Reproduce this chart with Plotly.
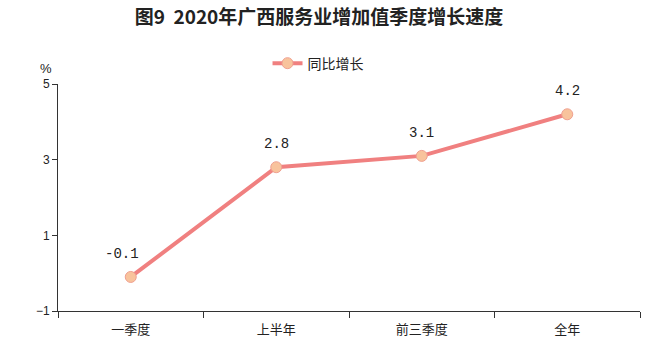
import plotly.graph_objects as go

categories = ["一季度", "上半年", "前三季度", "全年"]
values = [-0.1, 2.8, 3.1, 4.2]
value_labels = ["-0.1", "2.8", "3.1", "4.2"]
label_xshift = [-9, 0, 0, 0]
series_name = "同比增长"
y_ticks = [-1, 1, 3, 5]

CJK = "Noto Sans CJK SC"
fig = go.Figure()
fig.add_trace(go.Scatter(
    x=categories, y=values, name=series_name, mode="lines+markers",
    line=dict(color="#F08080", width=4),
    marker=dict(size=11, color="#F8C39C", line=dict(color="#F0A090", width=1)),
    cliponaxis=False,
))
for c, v, t, dx in zip(categories, values, value_labels, label_xshift):
    fig.add_annotation(x=c, y=v, text=t, showarrow=False, yshift=23, xshift=dx,
                       font=dict(family="Liberation Mono, DejaVu Sans Mono", size=14, color="#222"))
fig.update_layout(
    width=651, height=351,
    margin=dict(l=58, r=11, t=84, b=40),
    paper_bgcolor="white", plot_bgcolor="white",
    title=dict(text="<b>图9  2020年广西服务业增加值季度增长速度</b>", x=0.49, xanchor="center",
               y=0.95, yanchor="middle", font=dict(family=CJK, size=19, color="#222")),
    showlegend=True,
    legend=dict(orientation="h", x=0.36, y=1.09, xanchor="left", yanchor="middle",
                font=dict(family=CJK, size=14, color="#222"), itemwidth=30),
    font=dict(family=CJK, size=12, color="#222"),
)
fig.update_xaxes(type="category", range=[-0.5, 3.5], showline=True, linecolor="#333",
                 linewidth=1, ticks="outside", tickson="boundaries", ticklen=6,
                 tickcolor="#333", showgrid=False, ticklabelstandoff=6,
                 tickfont=dict(family=CJK, size=13, color="#222"))
fig.update_yaxes(range=[-1, 5], tickvals=y_ticks, ticks="outside", ticklen=5,
                 tickcolor="#333", showline=True, linecolor="#333", linewidth=1,
                 showgrid=False, zeroline=False,
                 tickfont=dict(family="Liberation Sans", size=12, color="#222"))
fig.add_annotation(text="%", xref="paper", yref="paper", x=-0.035, y=1.11,
                   showarrow=False, font=dict(family="Liberation Sans", size=13, color="#222"))
fig.write_html("out.html")
